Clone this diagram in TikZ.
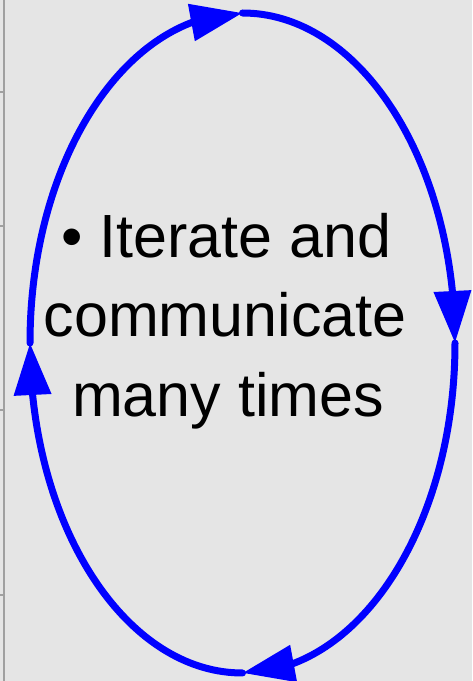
\documentclass[tikz,border=0pt]{standalone}
\usepackage{fontspec}
\setmainfont{Liberation Sans}
\usetikzlibrary{arrows.meta,bending}
\definecolor{bg}{RGB}{229,229,229}
\definecolor{tickgray}{RGB}{160,160,160}
\begin{document}
\begin{tikzpicture}[x=1pt,y=1pt,
  loop/.style={draw=blue, line width=7pt, line cap=round, -{Triangle[length=52pt,width=36pt,flex]}},
  lbl/.style={anchor=base, inner sep=0pt, font=\fontsize{61pt}{79pt}\selectfont},
  tick/.style={draw=tickgray, line width=1.5pt}]
\fill[bg] (0,0) rectangle (472,681);
\useasboundingbox (0,0) rectangle (472,681);
\coordinate (axtop) at (4,681);
\coordinate (axbot) at (4,0);
\draw[tick] (axbot) -- (axtop);
\foreach \y in {589,455,271,86} {
  \coordinate (ta\y) at (0,\y);
  \coordinate (tb\y) at (4,\y);
  \draw[tick] (ta\y) -- (tb\y);
}
\coordinate (L) at (30,338);
\coordinate (T) at (242.5,668);
\coordinate (R) at (455,338);
\coordinate (B) at (242.5,8);
\draw[loop] (L) arc[start angle=180,end angle=90,x radius=212.5,y radius=330];
\draw[loop] (T) arc[start angle=90,end angle=0,x radius=212.5,y radius=330];
\draw[loop] (R) arc[start angle=0,end angle=-90,x radius=212.5,y radius=330];
\draw[loop] (B) arc[start angle=270,end angle=180,x radius=212.5,y radius=330];
\node[lbl] (t1) at (226.5,423) {• Iterate and};
\node[lbl] (t2) at (225,344) {communicate};
\node[lbl] (t3) at (228,264) {many times};
\end{tikzpicture}
\end{document}
